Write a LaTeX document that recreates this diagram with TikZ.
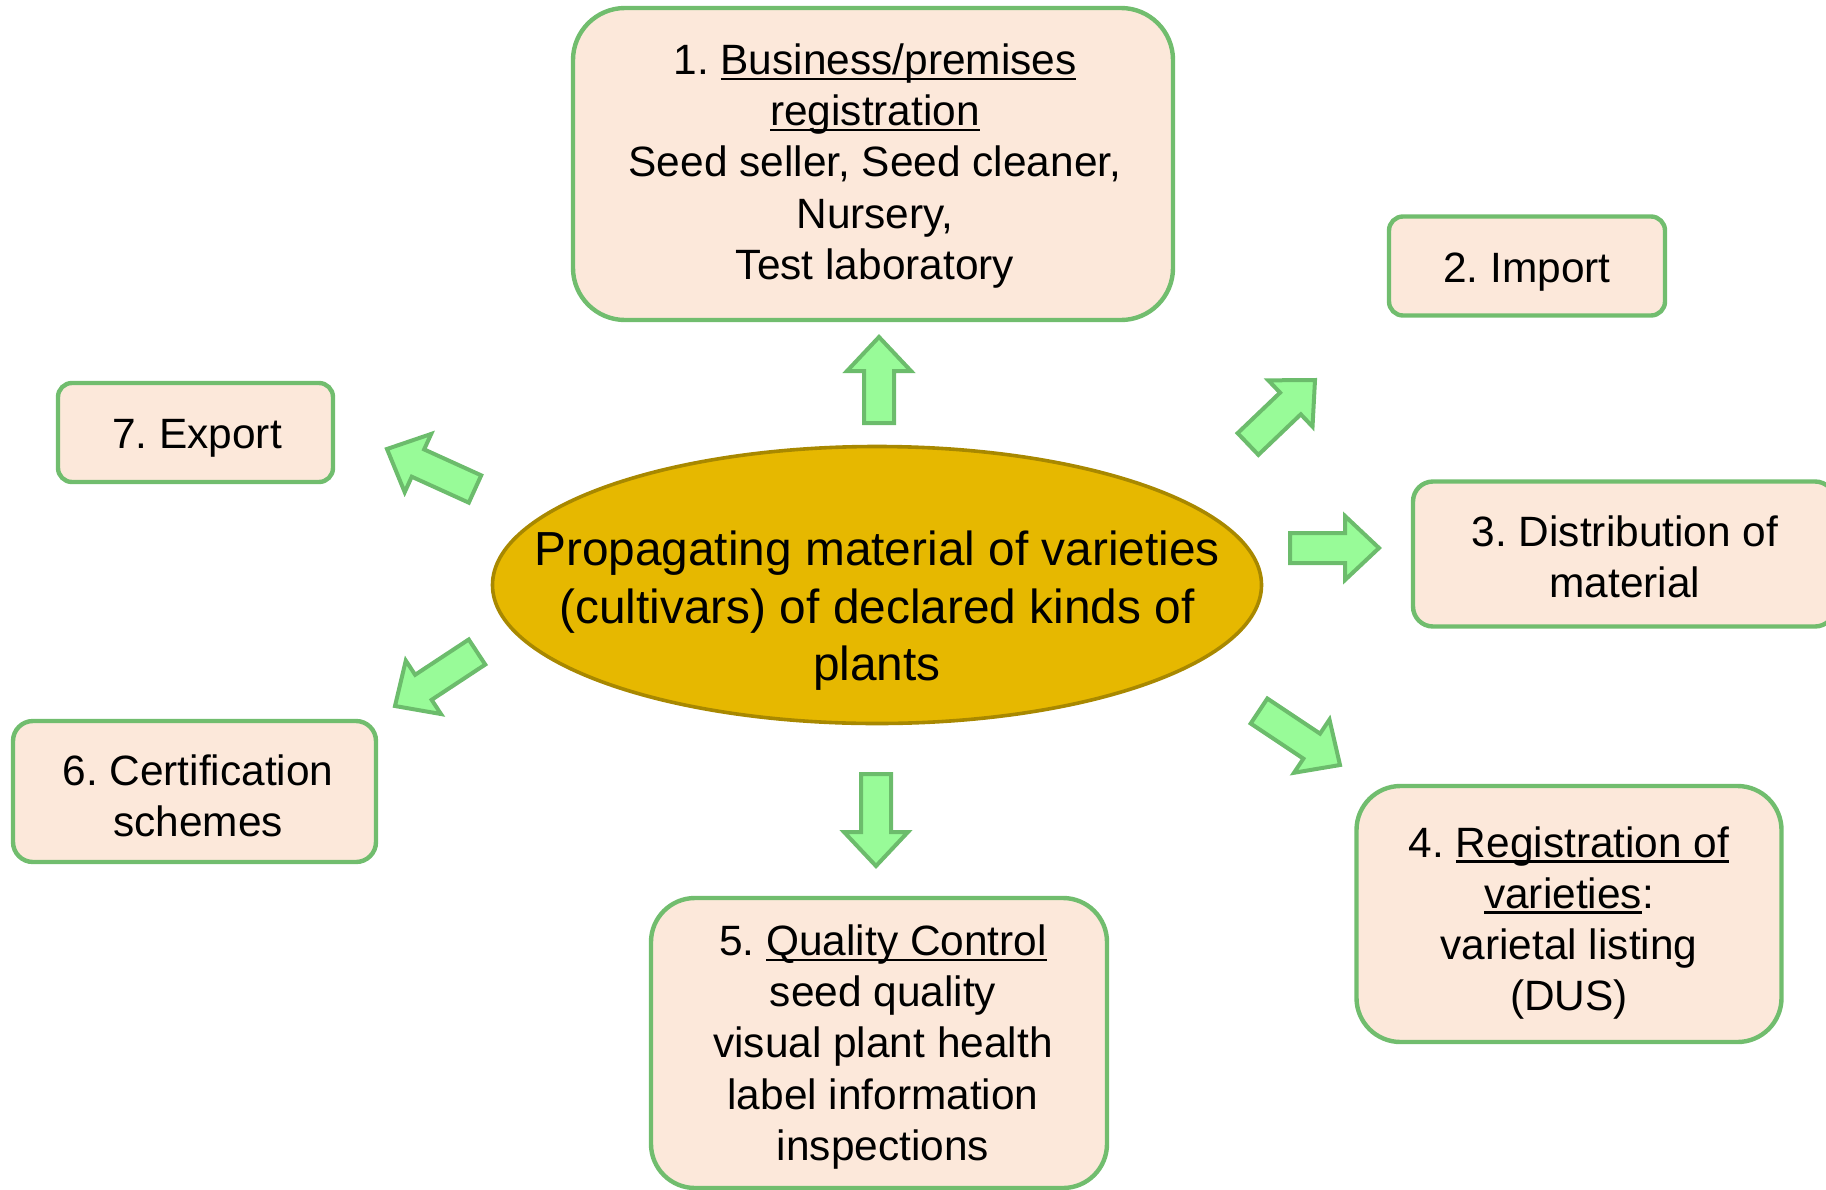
\documentclass[tikz,border=0pt]{standalone}
\usepackage{fontspec}
\setmainfont{Liberation Sans}
\usetikzlibrary{calc,shapes.geometric}
\frenchspacing
\definecolor{boxfill}{RGB}{252,232,218}
\definecolor{boxline}{RGB}{113,189,110}
\definecolor{arrfill}{RGB}{152,251,152}
\definecolor{arrline}{RGB}{108,188,108}
\definecolor{ellfill}{RGB}{230,184,0}
\definecolor{ellline}{RGB}{168,136,0}
\newlength\myullen
\newcommand\myul[1]{\settowidth\myullen{#1}\rlap{\rule[-0.13em]{\myullen}{0.06em}}#1}
\tikzset{
  box/.style={draw=boxline, fill=boxfill, line width=2.2pt, inner sep=0pt},
  boxtext/.style={align=center, inner sep=0pt, font=\fontsize{21.2}{25.6}\selectfont},
  ell/.style={ellipse, draw=ellline, fill=ellfill, line width=1.8pt, inner sep=0pt},
  elltext/.style={align=center, inner sep=0pt, font=\fontsize{23.9}{28.8}\selectfont},
  blockarr/.style={draw=arrline, fill=arrfill, line width=2pt, line join=miter}
}
\newcommand\blockarrow[2]{%
  \coordinate (n) at ($(#2)!17pt!(#1)$);
  \draw[blockarr] ($(#1)!7.5pt!90:(#2)$) -- ($(n)!7.5pt!-90:(#1)$) -- ($(n)!16pt!-90:(#1)$)
    -- (#2) -- ($(n)!16pt!90:(#1)$) -- ($(n)!7.5pt!90:(#1)$) -- ($(#1)!7.5pt!-90:(#2)$) -- cycle;}
\begin{document}
\begin{tikzpicture}[x=0.5pt,y=-0.5pt]
\useasboundingbox (0,0) rectangle (1826,1189);
\node[box, rounded corners=26pt, minimum width=300pt, minimum height=156pt] (b1) at (873,164) {};
\node[boxtext] (b1t) at (875,166)
  {1. \myul{Business/premises}\\\myul{registration}\\Seed seller, Seed cleaner,\\Nursery,\\Test laboratory};
\node[box, rounded corners=7pt, minimum width=138pt, minimum height=49.5pt] (b2) at (1527,266) {};
\node[boxtext] (b2t) at (1527,272) {2. Import};
\node[box, rounded corners=10pt, minimum width=211pt, minimum height=72.5pt] (b3) at (1624,554) {};
\node[boxtext] (b3t) at (1625,557) {3. Distribution of\\material};
\node[box, rounded corners=22pt, minimum width=212.5pt, minimum height=128pt] (b4) at (1569,914) {};
\node[boxtext] (b4t) at (1569,923) {4. \myul{Registration of}\\\myul{varieties}:\\varietal listing\\(DUS)};
\node[box, rounded corners=22pt, minimum width=228pt, minimum height=145pt] (b5) at (879,1043) {};
\node[boxtext] (b5t) at (883,1047)
  {5. \myul{Quality Control}\\seed quality\\visual plant health\\label information\\inspections};
\node[box, rounded corners=10pt, minimum width=181.5pt, minimum height=70.5pt] (b6) at (194.5,791.5) {};
\node[boxtext] (b6t) at (198,796) {6. Certification\\schemes};
\node[box, rounded corners=7pt, minimum width=137.5pt, minimum height=49.5pt] (b7) at (195.5,432.5) {};
\node[boxtext] (b7t) at (197,438) {7. Export};
\node[ell, minimum width=384.5pt, minimum height=138.5pt] (c) at (877,585) {};
\node[elltext] (ct) at (877,611) {Propagating material of varieties\\(cultivars) of declared kinds of\\plants};
% arrow coordinates
\coordinate (a1s) at (879,423); \coordinate (a1e) at (879,337);
\coordinate (a5s) at (876,774); \coordinate (a5e) at (876,866);
\coordinate (a3s) at (1290,548); \coordinate (a3e) at (1379,548);
\coordinate (a2s) at (1248,444); \coordinate (a2e) at (1315,380);
\coordinate (a4s) at (1259,711); \coordinate (a4e) at (1340,765);
\coordinate (a7s) at (475,489); \coordinate (a7e) at (387,449);
\coordinate (a6s) at (477,652); \coordinate (a6e) at (395,706);
\blockarrow{a1s}{a1e}
\blockarrow{a2s}{a2e}
\blockarrow{a3s}{a3e}
\blockarrow{a4s}{a4e}
\blockarrow{a5s}{a5e}
\blockarrow{a6s}{a6e}
\blockarrow{a7s}{a7e}
\end{tikzpicture}
\end{document}
